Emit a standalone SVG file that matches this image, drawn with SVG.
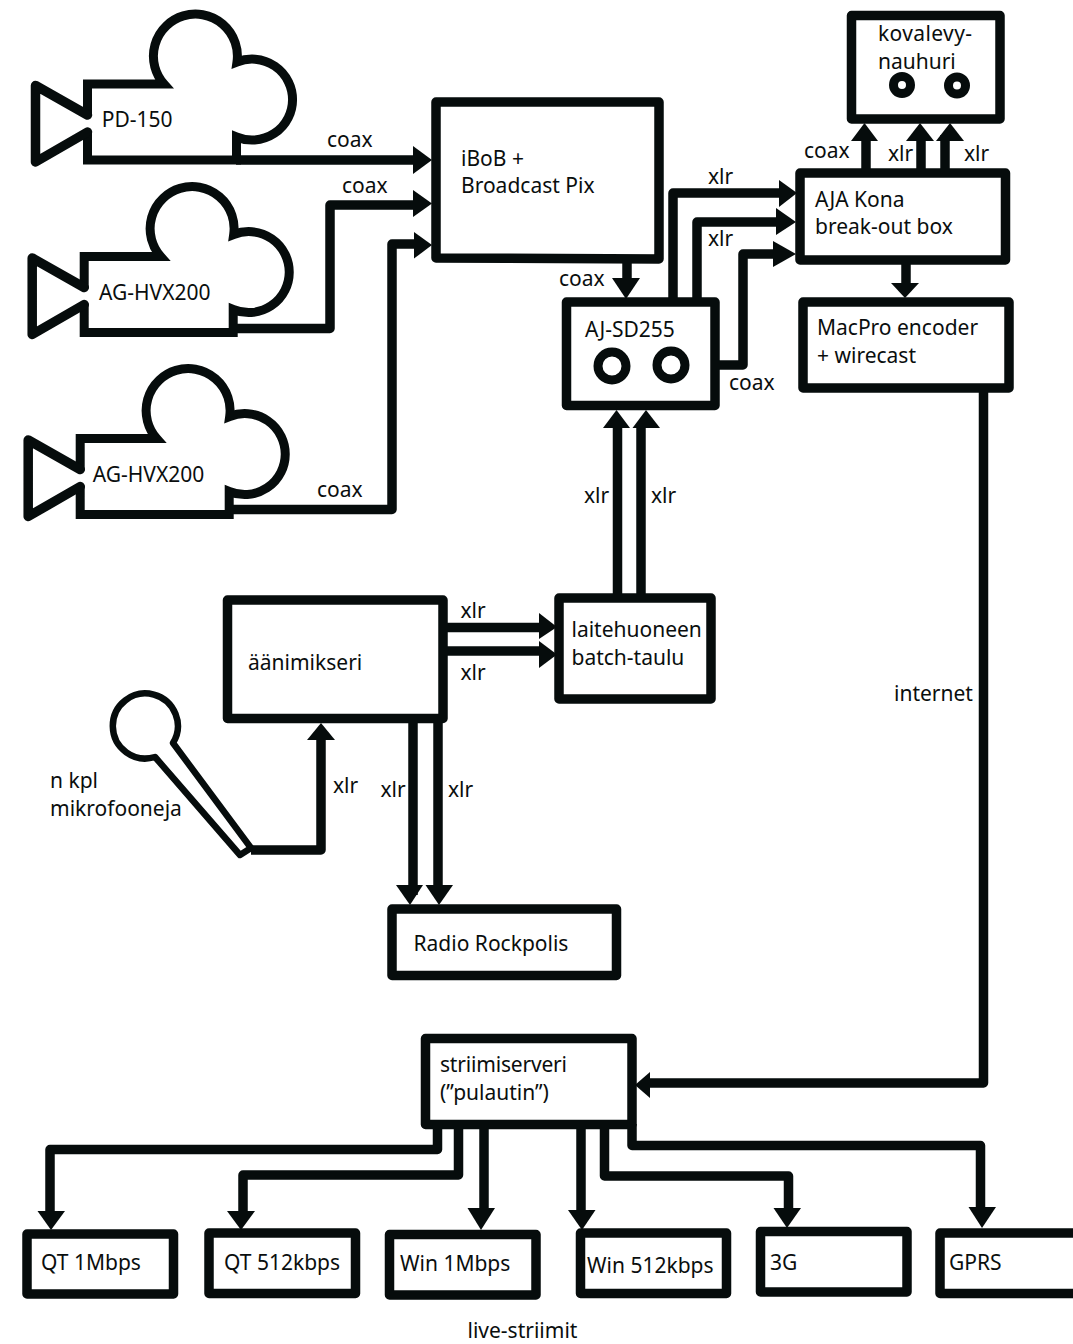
<svg xmlns="http://www.w3.org/2000/svg" width="1073" height="1344" viewBox="0 0 1073 1344">
<style>
.b{fill:#fff;stroke:#060c0c;stroke-width:9.500;stroke-linejoin:round}
.l{fill:none;stroke:#060c0c;stroke-width:9.500;stroke-linejoin:round}
.m{fill:none;stroke:#060c0c;stroke-width:9;stroke-linejoin:miter;stroke-miterlimit:4}
.c{stroke-linecap:round}
.h{fill:#060c0c;stroke:none}
.r{fill:none;stroke:#060c0c;stroke-width:9}
text{font-family:"Noto Sans","Open Sans","Liberation Sans",sans-serif;font-size:21px;fill:#0a0e0e}
</style>
<defs>
<g id="cam">
<path class="m" d="M87.500 116V84H164A42 42 0 1 1 237 62A40.500 40.500 0 1 1 236.500 137V160H87.500V131"/>
<path class="l c" d="M87.500 132L35.500 162V85.500L87.500 115"/>
</g>
</defs>
<rect width="1073" height="1344" fill="#fff"/>
<g id="cam1"><use href="#cam"/><text x="101.700" y="127">PD-150</text></g>
<g id="cam2"><use href="#cam" transform="translate(-3.300,172.500)"/><text x="99" y="300">AG-HVX200</text></g>
<g id="cam3"><use href="#cam" transform="translate(-7.300,354.500)"/><text x="92.700" y="482">AG-HVX200</text></g>
<g id="ibob"><path class="b" d="M436 102H659V259L436 258Z"/><text x="461" y="166">iBoB +</text><text x="461" y="193">Broadcast Pix</text></g>
<g id="ajsd"><rect class="b" x="566.500" y="302" width="148.500" height="103.500"/><circle class="r" cx="612" cy="366" r="14"/><circle class="r" cx="671" cy="365" r="14"/><text x="585" y="337">AJ-SD255</text></g>
<g id="kona"><rect class="b" x="800" y="173" width="205.500" height="87"/><text x="815" y="207">AJA Kona</text><text x="815" y="234">break-out box</text></g>
<g id="kovalevy"><rect class="b" x="851.500" y="15.500" width="148.500" height="103.500"/><circle class="r" cx="902" cy="85" r="8.500"/><circle class="r" cx="957" cy="85.500" r="8.500"/><text x="878" y="41" textLength="94">kovalevy-</text><text x="878" y="69">nauhuri</text></g>
<g id="macpro"><rect class="b" x="803" y="302" width="206" height="86"/><text x="817" y="335">MacPro encoder</text><text x="817" y="363">+ wirecast</text></g>
<g id="mikseri"><rect class="b" x="227.500" y="600" width="215.500" height="118.500"/><text x="248" y="670">äänimikseri</text></g>
<g id="batch"><rect class="b" x="559" y="598" width="152" height="101"/><text x="571.500" y="637">laitehuoneen</text><text x="571.500" y="665">batch-taulu</text></g>
<g id="mic"><path d="M173 743A32.500 32.500 0 1 0 155 757L240 855L251 848Z" fill="none" stroke="#060c0c" stroke-width="6.500" stroke-linejoin="round"/><text x="50" y="788">n kpl</text><text x="50" y="816">mikrofooneja</text></g>
<g id="radio"><rect class="b" x="392" y="909" width="224.500" height="66.500"/><text x="413.500" y="951">Radio Rockpolis</text></g>
<g id="server"><rect class="b" x="425.500" y="1038.500" width="206.500" height="86"/><text x="440" y="1072" textLength="127">striimiserveri</text><text x="440" y="1100">(”pulautin”)</text></g>
<g id="qt1"><rect class="b" x="27" y="1234" width="146.500" height="60"/><text x="41" y="1270">QT 1Mbps</text></g>
<g id="qt512"><rect class="b" x="209" y="1233" width="146.500" height="60.500"/><text x="224" y="1270">QT 512kbps</text></g>
<g id="win1"><rect class="b" x="389.500" y="1234.500" width="146.500" height="60.500"/><text x="400" y="1271">Win 1Mbps</text></g>
<g id="win512"><rect class="b" x="580.500" y="1233" width="146" height="60.500"/><text x="587" y="1273">Win 512kbps</text></g>
<g id="g3"><rect class="b" x="760.500" y="1231.500" width="146.500" height="60.500"/><text x="770" y="1270">3G</text></g>
<g id="gprs"><rect class="b" x="940" y="1233" width="150" height="60.500"/><text x="949" y="1270">GPRS</text></g>
<g id="connectors">
<path class="l" d="M236 160H420"/><polygon class="h" points="413,146 432,160 413,174"/>
<path class="l" d="M233 328.500H330V205H420"/><polygon class="h" points="413,190 432,203.500 413,217"/>
<path class="l" d="M225 509.500H392V244H420"/><polygon class="h" points="414,232 432,245 414,258.600"/>
<path class="l" d="M627 259V285"/><polygon class="h" points="612,278 640,278 626,299"/>
<path class="l" d="M673 302V193H785"/><polygon class="h" points="779,180 797,193 779,207"/>
<path class="l" d="M697 302V222H785"/><polygon class="h" points="776,208 796,222 776,235"/>
<path class="l" d="M715 365H743V254H780"/><polygon class="h" points="773,241 796,254 773,267"/>
<path class="l" d="M866 173V135"/><polygon class="h" points="851,141 878,141 864.500,123"/>
<path class="l" d="M921 173V135"/><polygon class="h" points="906,141 934,141 920,123"/>
<path class="l" d="M945 173V135"/><polygon class="h" points="936,141 964,141 950,123"/>
<path class="l" d="M906 260V290"/><polygon class="h" points="891,283 919,283 905,298"/>
<path class="l" d="M983.500 388V1083H645"/><polygon class="h" points="650,1072 635,1085 650,1098"/>
<path class="l" d="M617.500 598V425"/><polygon class="h" points="603,428 630,428 616.500,410"/>
<path class="l" d="M641 598V425"/><polygon class="h" points="632.500,428 660,428 646,410"/>
<path class="l" d="M443 627.500H545"/><polygon class="h" points="539,613 557,627 539,639"/>
<path class="l" d="M443 651H545"/><polygon class="h" points="539,641 557,654.500 539,668"/>
<path class="l" d="M251 850H321V735"/><polygon class="h" points="307,740 335,740 321,723"/>
<path class="l" d="M413 718V895"/><polygon class="h" points="396,885 423,885 410,905"/>
<path class="l" d="M438 718V895"/><polygon class="h" points="425.500,885 453,885 439,905"/>
<path class="l" d="M437.500 1124V1149.500H50V1220"/><polygon class="h" points="37.500,1211 65,1211 51,1230"/>
<path class="l" d="M458.500 1124V1175H243V1220"/><polygon class="h" points="227,1211 255,1211 241,1230"/>
<path class="l" d="M484 1124V1215"/><polygon class="h" points="467.500,1208 495,1208 481,1230"/>
<path class="l" d="M581 1124V1215"/><polygon class="h" points="568,1210 595.500,1210 582,1230"/>
<path class="l" d="M604.500 1124V1176H788.500V1215"/><polygon class="h" points="773.500,1208 801,1208 787,1228"/>
<path class="l" d="M632 1124V1145.500H980.500V1215"/><polygon class="h" points="968.500,1207 996,1207 982,1228"/>
</g>
<g id="labels">
<text x="327" y="147">coax</text><text x="342" y="193">coax</text><text x="317" y="497">coax</text>
<text x="559" y="286">coax</text><text x="729" y="390">coax</text><text x="804" y="158">coax</text>
<text x="888" y="161">xlr</text><text x="964" y="161">xlr</text><text x="708" y="184">xlr</text><text x="708" y="246">xlr</text>
<text x="584" y="503">xlr</text><text x="651" y="503">xlr</text><text x="460.500" y="618">xlr</text><text x="460.500" y="680">xlr</text>
<text x="333" y="793">xlr</text><text x="380.500" y="797">xlr</text><text x="448" y="797">xlr</text>
<text x="894" y="701">internet</text><text x="467.500" y="1338">live-striimit</text>
</g>
</svg>
